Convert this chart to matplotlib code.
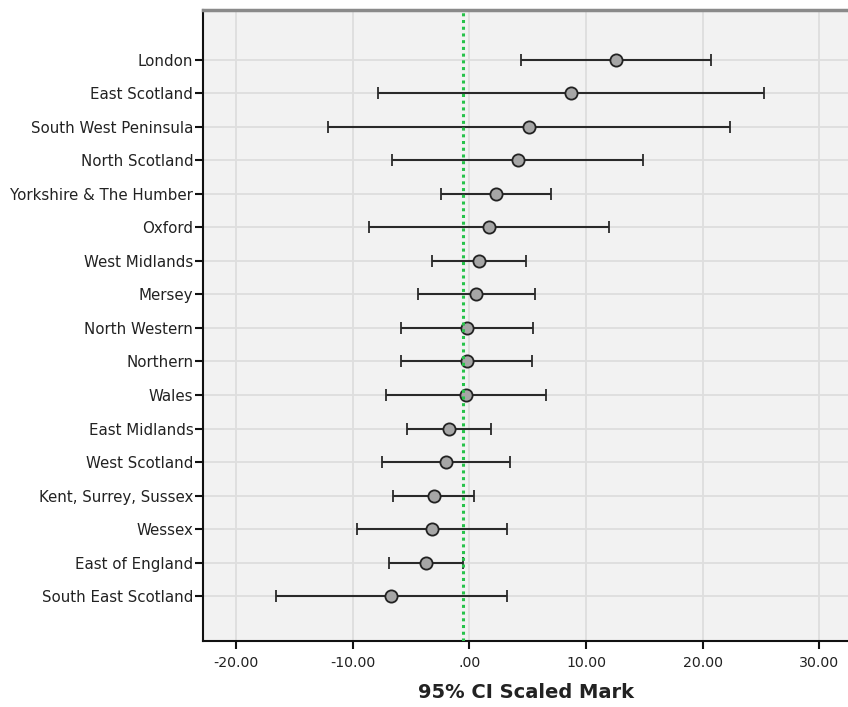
import matplotlib
matplotlib.use("Agg")
import matplotlib.pyplot as plt
import numpy as np

regions = ["London", "East Scotland", "South West Peninsula", "North Scotland",
           "Yorkshire & The Humber", "Oxford", "West Midlands", "Mersey",
           "North Western", "Northern", "Wales", "East Midlands", "West Scotland",
           "Kent, Surrey, Sussex", "Wessex", "East of England", "South East Scotland"]
means = [12.6, 8.7, 5.13, 4.17, 2.26, 1.69, 0.80, 0.57, -0.20, -0.22, -0.28,
         -1.77, -2.02, -3.02, -3.20, -3.68, -6.74]
lower = [4.46, -7.82, -12.08, -6.60, -2.45, -8.59, -3.22, -4.42, -5.85, -5.85,
         -7.17, -5.31, -7.51, -6.51, -9.65, -6.88, -16.6]
upper = [20.71, 25.25, 22.32, 14.91, 7.00, 11.94, 4.83, 5.63, 5.43, 5.34, 6.60,
         1.83, 3.52, 0.40, 3.26, -0.51, 3.26]
ref_value = -0.51
xticks = [-20, -10, 0, 10, 20, 30]
xtick_labels = ["-20.00", "-10.00", ".00", "10.00", "20.00", "30.00"]
xlabel = "95% CI Scaled Mark"

fig = plt.figure(figsize=(8.48, 7.07), dpi=100)
ax = fig.add_axes([0.2394, 0.0934, 0.7606, 0.8925])
ax.set_facecolor("#f2f2f2")

y = np.arange(len(regions))
m = np.array(means)
err = np.vstack([m - np.array(lower), np.array(upper) - m])
ax.errorbar(m, y, xerr=err, fmt="o", color="#2a2a2a", ecolor="#2a2a2a",
            elinewidth=1.5, capsize=4.5, capthick=1.3,
            markersize=8.8, markerfacecolor="#a6a6a6", markeredgecolor="#222222",
            markeredgewidth=1.3, zorder=3)

ax.axvline(ref_value, color="#27c24a", linestyle=(0, (1, 1.2)), linewidth=2.2, zorder=4)

ax.set_xlim(-22.82, 32.45)
ax.set_ylim(17.34, -1.49)
ax.set_yticks(y)
ax.set_yticklabels(regions)
ax.set_xticks(xticks)
ax.set_xticklabels(xtick_labels)
ax.grid(True, color="#dedede", linewidth=1.3, zorder=0)
ax.set_axisbelow(True)

ax.tick_params(axis="y", length=6, width=1.5, color="#111111", labelsize=10.8,
               labelcolor="#222222", pad=1)
ax.tick_params(axis="x", length=6, width=1.5, color="#111111", labelsize=10.2,
               labelcolor="#222222", pad=5)

for s in ["left", "bottom"]:
    ax.spines[s].set_color("#111111")
    ax.spines[s].set_linewidth(1.5)
ax.spines["top"].set_color("#8a8a8a")
ax.spines["top"].set_linewidth(2.5)
ax.spines["right"].set_visible(False)

ax.set_xlabel(xlabel, fontsize=14, fontweight="bold", color="#222222", labelpad=9)

fig.savefig("out.png", dpi=100)
